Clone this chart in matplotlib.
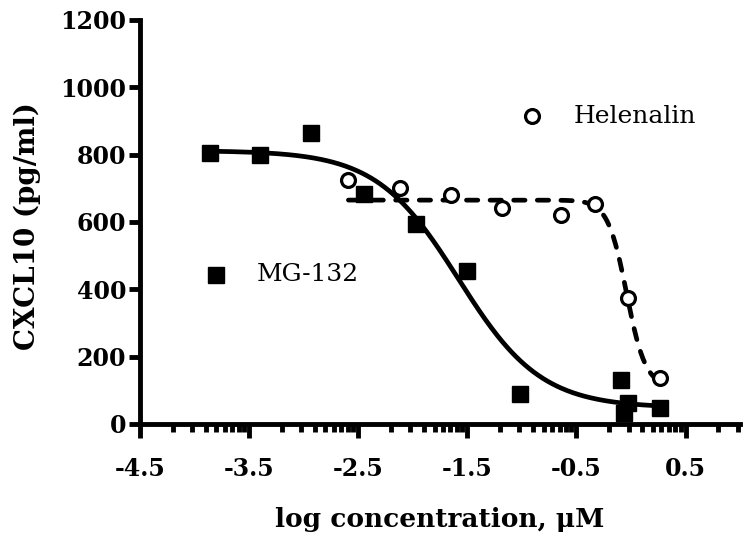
import numpy as np
import matplotlib
matplotlib.use("Agg")
import matplotlib.pyplot as plt
from matplotlib.ticker import FixedLocator

plt.rcParams['font.family'] = ['DejaVu Serif']

# MG-132 (filled squares)
mg_x = [-3.86, -3.40, -2.93, -2.45, -1.97, -1.50, -1.02, -0.09, -0.03, -0.06, 0.27]
mg_y = [805, 800, 864, 683, 594, 454, 89, 131, 62, 33, 48]
# fitted sigmoid for MG-132: top, bottom, logEC50, hill
mg_fit = (812, 48, -1.58, 1.15)

# Helenalin (open circles)
hel_x = [-2.59, -2.12, -1.65, -1.18, -0.64, -0.33, -0.03, 0.27]
hel_y = [725, 701, 680, 642, 621, 653, 374, 137]
hel_fit = (665, 110, -0.04, 5.0)

x_major = [-4.5, -3.5, -2.5, -1.5, -0.5, 0.5]
x_labels = ["-4.5", "-3.5", "-2.5", "-1.5", "-0.5", "0.5"]
y_major = [0, 200, 400, 600, 800, 1000, 1200]


def logistic(x, top, bottom, ec50, hill):
    return bottom + (top - bottom) / (1 + 10 ** ((x - ec50) * hill))


fig = plt.figure(figsize=(7.52, 5.47), dpi=100)
ax = fig.add_axes([0.1862, 0.2249, 0.798, 0.7386])

xs = np.linspace(min(mg_x), max(mg_x), 300)
ax.plot(xs, logistic(xs, *mg_fit), color="black", lw=3.4, solid_capstyle="round")
xs = np.linspace(min(hel_x), max(hel_x), 300)
ax.plot(xs, logistic(xs, *hel_fit), color="black", lw=3.4,
        linestyle=(0, (2.4, 2.6)), dash_capstyle="round")

ax.plot(mg_x, mg_y, "s", color="black", ms=11, clip_on=False, zorder=3)
ax.plot(hel_x, hel_y, "o", mfc="white", mec="black", mew=2.3, ms=10,
        clip_on=False, zorder=3)

# inline legend
ax.plot([0.127], [0.369], "s", color="black", ms=11, transform=ax.transAxes)
ax.text(0.195, 0.369, "MG-132", transform=ax.transAxes, fontsize=18,
        va="center", ha="left")
ax.plot([0.653], [0.762], "o", mfc="white", mec="black", mew=2.3, ms=10,
        transform=ax.transAxes)
ax.text(0.722, 0.762, "Helenalin", transform=ax.transAxes, fontsize=18,
        va="center", ha="left")

ax.set_xlim(-4.5, 1.0)
ax.set_ylim(0, 1200)

for side in ["top", "right"]:
    ax.spines[side].set_visible(False)
for side in ["left", "bottom"]:
    ax.spines[side].set_linewidth(3.5)

minor = [m + np.log10(k) for m in x_major for k in range(2, 10)]
minor = [v for v in minor if v <= 1.0]
ax.xaxis.set_major_locator(FixedLocator(x_major))
ax.xaxis.set_minor_locator(FixedLocator(minor))
ax.set_xticklabels(x_labels)
ax.set_yticks(y_major)

ax.tick_params(axis="x", which="major", length=10, width=3.5, pad=14,
               labelsize=17)
ax.tick_params(axis="x", which="minor", length=6, width=3.5)
ax.tick_params(axis="y", length=8, width=3.5, pad=2, labelsize=17)
for lab in ax.get_xticklabels() + ax.get_yticklabels():
    lab.set_fontweight("bold")

ax.set_xlabel("log concentration, \u03bcM", fontsize=19, fontweight="bold")
ax.xaxis.set_label_coords(0.5, -0.205)
ax.set_ylabel("CXCL10 (pg/ml)", fontsize=20, fontweight="bold")
ax.yaxis.set_label_coords(-0.165, 0.49)

fig.savefig("out.png", dpi=100)
